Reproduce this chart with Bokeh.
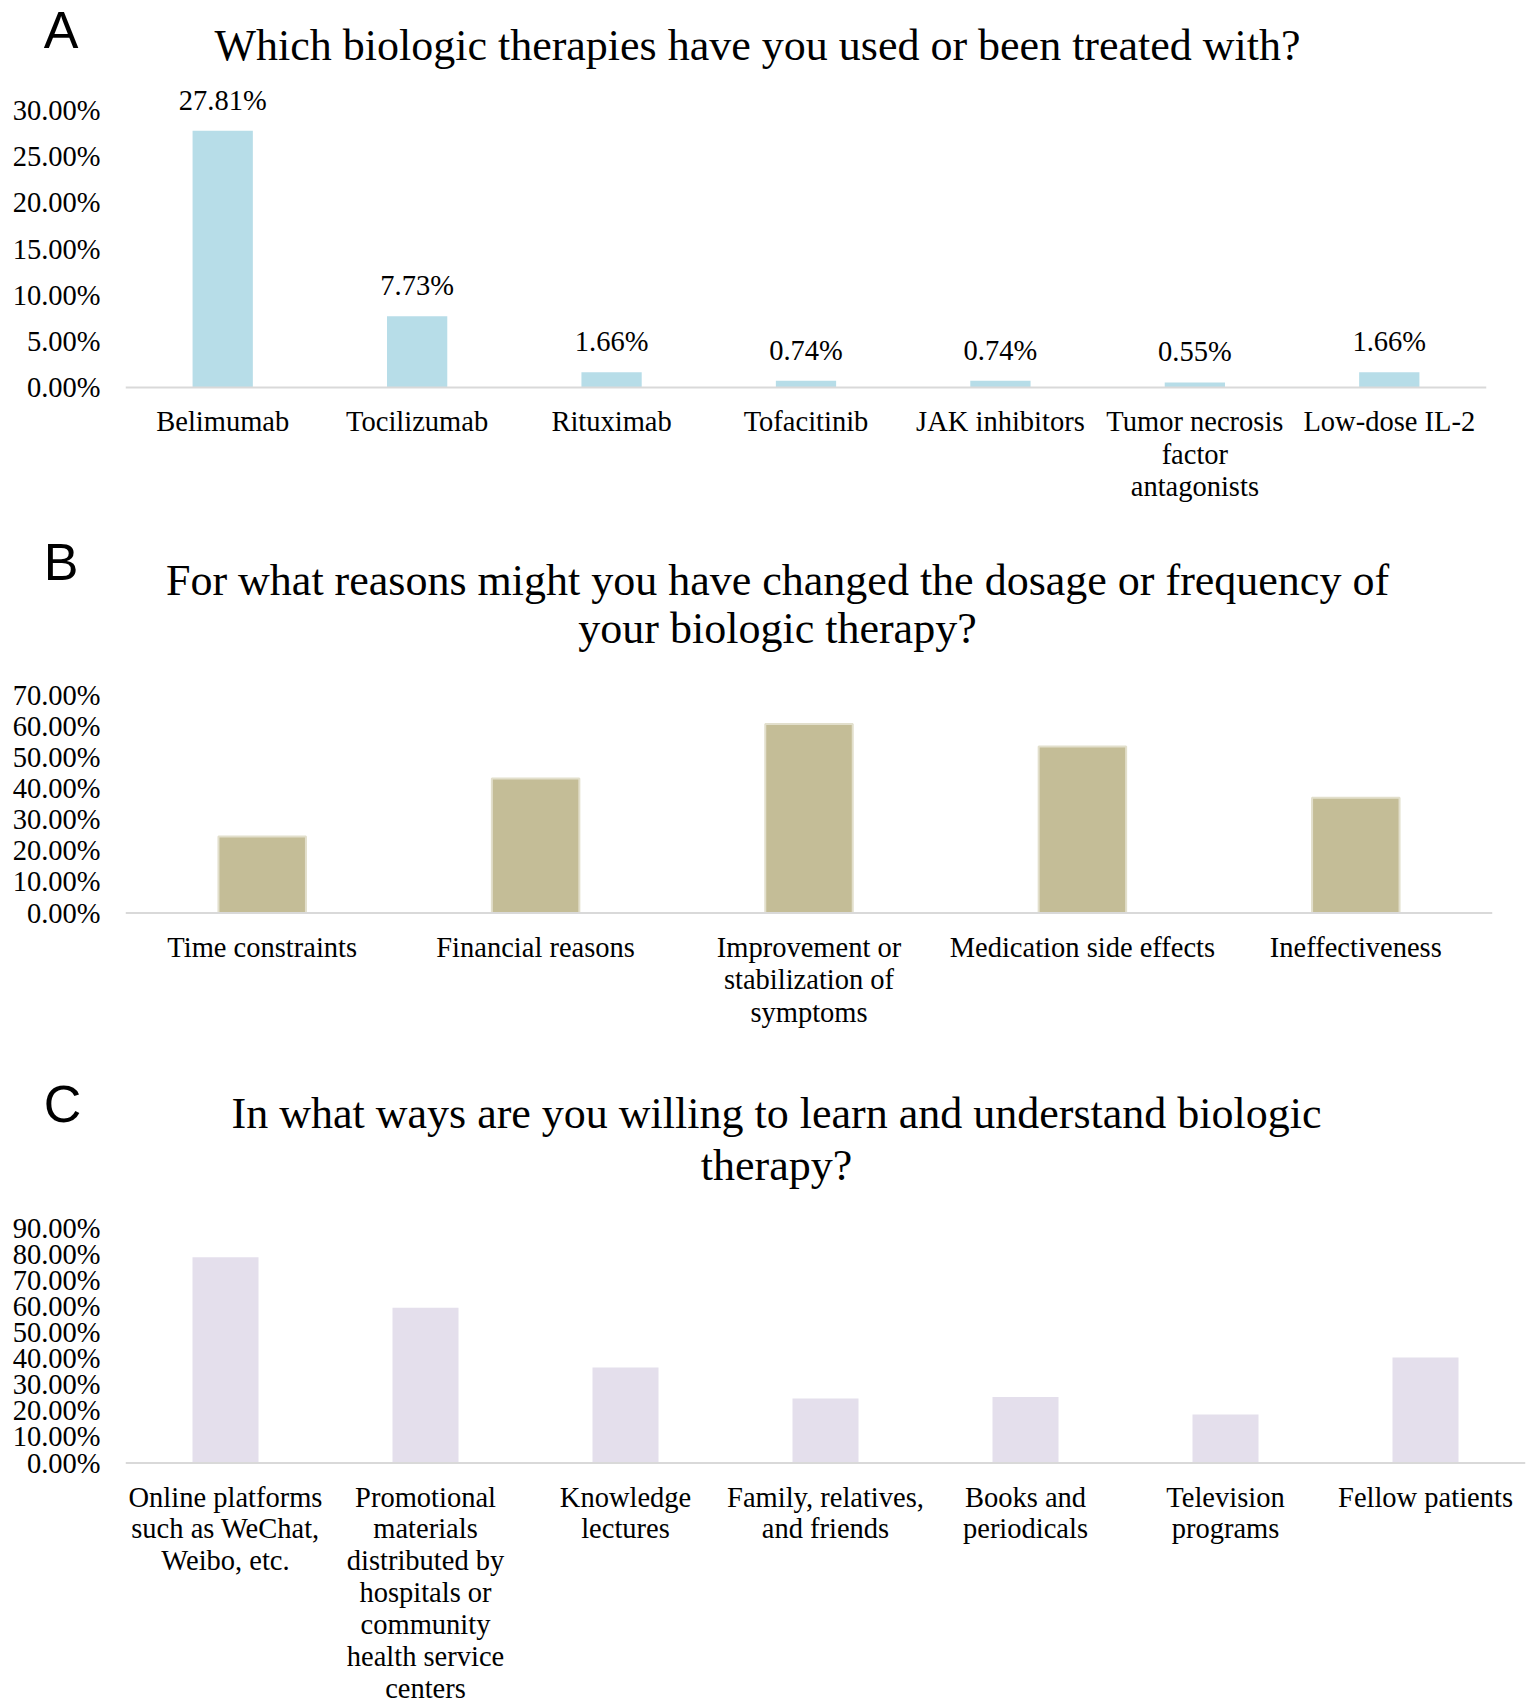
from bokeh.plotting import figure
from bokeh.models import (Range1d, FactorRange, FixedTicker, PrintfTickFormatter, Span,
                          ColumnDataSource)
from bokeh.core.properties import value
from bokeh.embed import file_html
from bokeh.resources import INLINE

# ---------------- data ----------------
a_letter = "A"
a_title = ["Which biologic therapies have you used or been treated with?"]
a_cats = ["Belimumab", "Tocilizumab", "Rituximab", "Tofacitinib", "JAK inhibitors",
          "Tumor necrosis\nfactor\nantagonists", "Low-dose IL-2"]
a_vals = [27.81, 7.73, 1.66, 0.74, 0.74, 0.55, 1.66]
a_ticks = [0, 5, 10, 15, 20, 25, 30]

b_letter = "B"
b_title = ["For what reasons might you have changed the dosage or frequency of",
           "your biologic therapy?"]
b_cats = ["Time constraints", "Financial reasons", "Improvement or\nstabilization of\nsymptoms",
          "Medication side effects", "Ineffectiveness"]
b_vals = [24.6, 43.2, 60.7, 53.5, 37.0]
b_ticks = [0, 10, 20, 30, 40, 50, 60, 70]

c_letter = "C"
c_title = ["In what ways are you willing to learn and understand biologic", "therapy?"]
c_cats = ["Online platforms\nsuch as WeChat,\nWeibo, etc.",
          "Promotional\nmaterials\ndistributed by\nhospitals or\ncommunity\nhealth service\ncenters",
          "Knowledge\nlectures", "Family, relatives,\nand friends", "Books and\nperiodicals",
          "Television\nprograms", "Fellow patients"]
c_vals = [79.0, 59.6, 36.7, 24.8, 25.3, 18.6, 40.5]
c_ticks = [0, 10, 20, 30, 40, 50, 60, 70, 80, 90]

SERIF = "Liberation Serif"
SANS = "Liberation Sans"
W = 1535
LEFT = 125
FS = "28.5px"


def header(height, letter, letter_pos, title_lines, title_x, title_ys):
    h = figure(width=W, height=height, x_range=Range1d(0, W), y_range=Range1d(height, 0),
               min_border=0, min_border_left=0, min_border_right=0, min_border_top=0,
               min_border_bottom=0, output_backend="svg", toolbar_location=None, tools="")
    h.axis.visible = False
    h.grid.visible = False
    h.outline_line_color = None
    h.background_fill_color = "white"
    h.border_fill_color = "white"
    h.text(x=[letter_pos[0]], y=[letter_pos[1]], text=[letter], text_align="center",
           text_baseline="middle", text_font=value(SANS), text_font_size="52px",
           text_color="black")
    h.text(x=[title_x] * len(title_lines), y=title_ys, text=title_lines,
           text_align="center", text_baseline="middle", text_font=value(SERIF),
           text_font_size="44px", text_color="black")
    return h


def panel(cats, vals, ticks, color, bar_w, fig_top, fig_bottom, max_y, zero_y, frame_w,
          line_gap, line_color=None):
    ppu = (zero_y - max_y) / ticks[-1]
    y_end = ticks[-1] + (max_y - fig_top) / ppu
    y_start = -(fig_bottom - zero_y) / ppu
    p = figure(x_range=FactorRange(factors=cats), y_range=Range1d(y_start, y_end),
               width=W, height=fig_bottom - fig_top,
               min_border_left=LEFT, min_border_right=W - LEFT - frame_w,
               min_border_top=0, min_border_bottom=0,
               output_backend="svg", toolbar_location=None, tools="")
    p.vbar(x=cats, top=vals, width=bar_w, bottom=0, fill_color=color,
           line_color=line_color, line_width=2 if line_color else 0)
    p.add_layout(Span(location=0, dimension="width", line_color="#d9d9d9", line_width=2))
    p.outline_line_color = None
    p.xgrid.visible = False
    p.ygrid.visible = False
    p.xaxis.visible = False
    p.background_fill_color = "white"
    p.border_fill_color = "white"
    yax = p.yaxis[0]
    yax.ticker = FixedTicker(ticks=ticks)
    yax.formatter = PrintfTickFormatter(format="%.2f%%")
    yax.axis_line_color = None
    yax.major_tick_line_color = None
    yax.minor_tick_line_color = None
    yax.major_tick_out = 0
    yax.major_tick_in = 0
    yax.major_label_standoff = 25
    yax.major_label_text_font = SERIF
    yax.major_label_text_font_size = FS
    yax.major_label_text_color = "black"
    # category labels, one row per wrapped line
    xs, ts, dys = [], [], []
    for c in cats:
        for k, line in enumerate(c.split("\n")):
            xs.append(c)
            ts.append(line)
            dys.append(34 + line_gap * k)
    src = ColumnDataSource(dict(x=xs, y=[0] * len(xs), text=ts, dy=dys))
    p.text(x="x", y="y", text="text", y_offset="dy", source=src, text_align="center",
           text_baseline="middle", text_font=value(SERIF), text_font_size=FS,
           text_color="black")
    return p


# Panel A  (page 0 .. 520)
ha = header(80, a_letter, (60.5, 29.5), a_title, 757, [45])
pa = panel(a_cats, a_vals, a_ticks, "#b7dde8", 0.31, 80, 520, 110, 387, 1361, 32.5)
pa.text(x=a_cats, y=a_vals, text=[f"{v:.2f}%" for v in a_vals], y_offset=-30.5,
        text_align="center", text_baseline="middle", text_font=value(SERIF),
        text_font_size=FS, text_color="black")

# Panel B  (page 520 .. 1050)
hb = header(140, b_letter, (60.5, 561 - 520), b_title, 777, [580 - 520, 628 - 520])
pb = panel(b_cats, b_vals, b_ticks, "#c4bd97", 0.32, 660, 1050, 694.5, 912.5, 1367, 32.5,
           line_color="#e2dfcc")

# Panel C  (page 1050 .. 1704)
hc = header(142, c_letter, (62, 1103 - 1050), c_title, 776, [1113 - 1050, 1165 - 1050])
pc = panel(c_cats, c_vals, c_ticks, "#e4dfec", 0.33, 1192, 1704, 1228, 1462.5, 1400, 31.9)

open("out.html", "w").write(file_html([ha, pa, hb, pb, hc, pc], INLINE))
